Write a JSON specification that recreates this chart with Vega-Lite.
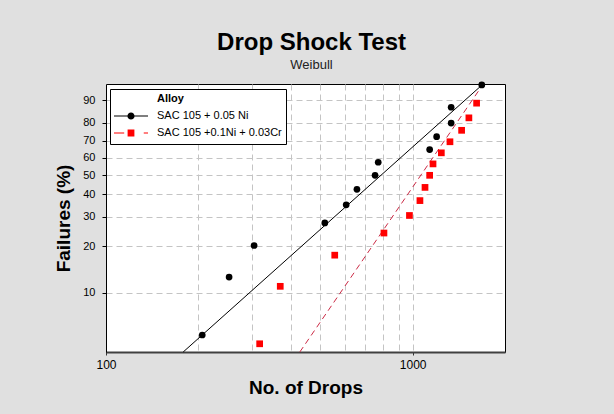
{
  "$schema": "https://vega.github.io/schema/vega-lite/v6.json",
  "width": 399,
  "height": 268,
  "autosize": "none",
  "padding": {"left": 106, "top": 84, "right": 109, "bottom": 62},
  "background": "#e0e0e0",
  "config": {
    "font": "Liberation Sans",
    "view": {"stroke": "#000000", "strokeWidth": 1, "fill": "#ffffff"}
  },
  "title": {
    "text": "Drop Shock Test",
    "subtitle": "Weibull",
    "font": "Liberation Sans",
    "fontSize": 24,
    "fontWeight": "bold",
    "color": "#000000",
    "subtitleFont": "Liberation Sans",
    "subtitleFontSize": 13,
    "subtitleColor": "#222222",
    "anchor": "middle",
    "dx": 6,
    "offset": 10,
    "subtitlePadding": 4
  },
  "data": {
    "values": [
      {"Alloy": "SAC 105 +0.1Ni + 0.03Cr", "Kind": "obs", "Drops": 317, "Failures": 4.55},
      {"Alloy": "SAC 105 +0.1Ni + 0.03Cr", "Kind": "obs", "Drops": 370, "Failures": 11.04},
      {"Alloy": "SAC 105 +0.1Ni + 0.03Cr", "Kind": "obs", "Drops": 557, "Failures": 17.53},
      {"Alloy": "SAC 105 +0.1Ni + 0.03Cr", "Kind": "obs", "Drops": 806, "Failures": 24.03},
      {"Alloy": "SAC 105 +0.1Ni + 0.03Cr", "Kind": "obs", "Drops": 976, "Failures": 30.52},
      {"Alloy": "SAC 105 +0.1Ni + 0.03Cr", "Kind": "obs", "Drops": 1056, "Failures": 37.01},
      {"Alloy": "SAC 105 +0.1Ni + 0.03Cr", "Kind": "obs", "Drops": 1097, "Failures": 43.51},
      {"Alloy": "SAC 105 +0.1Ni + 0.03Cr", "Kind": "obs", "Drops": 1136, "Failures": 50.0},
      {"Alloy": "SAC 105 +0.1Ni + 0.03Cr", "Kind": "obs", "Drops": 1165, "Failures": 56.49},
      {"Alloy": "SAC 105 +0.1Ni + 0.03Cr", "Kind": "obs", "Drops": 1240, "Failures": 62.99},
      {"Alloy": "SAC 105 +0.1Ni + 0.03Cr", "Kind": "obs", "Drops": 1323, "Failures": 69.48},
      {"Alloy": "SAC 105 +0.1Ni + 0.03Cr", "Kind": "obs", "Drops": 1444, "Failures": 75.97},
      {"Alloy": "SAC 105 +0.1Ni + 0.03Cr", "Kind": "obs", "Drops": 1525, "Failures": 82.47},
      {"Alloy": "SAC 105 +0.1Ni + 0.03Cr", "Kind": "obs", "Drops": 1616, "Failures": 88.96},
      {"Alloy": "SAC 105 + 0.05 Ni", "Kind": "obs", "Drops": 206, "Failures": 5.22},
      {"Alloy": "SAC 105 + 0.05 Ni", "Kind": "obs", "Drops": 252, "Failures": 12.69},
      {"Alloy": "SAC 105 + 0.05 Ni", "Kind": "obs", "Drops": 304, "Failures": 20.15},
      {"Alloy": "SAC 105 + 0.05 Ni", "Kind": "obs", "Drops": 517, "Failures": 27.61},
      {"Alloy": "SAC 105 + 0.05 Ni", "Kind": "obs", "Drops": 607, "Failures": 35.07},
      {"Alloy": "SAC 105 + 0.05 Ni", "Kind": "obs", "Drops": 658, "Failures": 42.54},
      {"Alloy": "SAC 105 + 0.05 Ni", "Kind": "obs", "Drops": 754, "Failures": 50.0},
      {"Alloy": "SAC 105 + 0.05 Ni", "Kind": "obs", "Drops": 772, "Failures": 57.46},
      {"Alloy": "SAC 105 + 0.05 Ni", "Kind": "obs", "Drops": 1136, "Failures": 64.93},
      {"Alloy": "SAC 105 + 0.05 Ni", "Kind": "obs", "Drops": 1197, "Failures": 72.39},
      {"Alloy": "SAC 105 + 0.05 Ni", "Kind": "obs", "Drops": 1335, "Failures": 79.85},
      {"Alloy": "SAC 105 + 0.05 Ni", "Kind": "obs", "Drops": 1335, "Failures": 87.31},
      {"Alloy": "SAC 105 + 0.05 Ni", "Kind": "obs", "Drops": 1680, "Failures": 94.78},
      {"Alloy": "SAC 105 + 0.05 Ni", "Kind": "fit", "Drops": 178.5, "Failures": 4.0},
      {"Alloy": "SAC 105 + 0.05 Ni", "Kind": "fit", "Drops": 1697, "Failures": 95.0},
      {"Alloy": "SAC 105 +0.1Ni + 0.03Cr", "Kind": "fit", "Drops": 428.5, "Failures": 4.0},
      {"Alloy": "SAC 105 +0.1Ni + 0.03Cr", "Kind": "fit", "Drops": 1699, "Failures": 95.0}
    ]
  },
  "transform": [
    {"calculate": "-log(1 - datum.Failures / 100)", "as": "H"}
  ],
  "encoding": {
    "x": {
      "field": "Drops",
      "type": "quantitative",
      "scale": {"type": "log", "domain": [100, 2000], "nice": false},
      "axis": {
        "title": "No. of Drops",
        "titleFont": "Liberation Sans",
        "titleFontSize": 19,
        "titleFontWeight": "bold",
        "titleColor": "#000000",
        "titlePadding": 8,
        "values": [100, 200, 300, 400, 500, 600, 700, 800, 900, 1000],
        "format": "d",
        "labelExpr": "datum.value == 100 || datum.value == 1000 ? datum.label : ''",
        "labelFont": "Liberation Sans",
        "labelFontSize": 12,
        "labelColor": "#000000",
        "labelFlush": false,
        "labelOverlap": false,
        "labelPadding": 4,
        "tickSize": 3,
        "tickColor": "#333333",
        "tickOpacity": {"condition": {"test": "datum.value == 100 || datum.value == 1000", "value": 1}, "value": 0},
        "domainColor": "#404040",
        "domainWidth": 2,
        "grid": true,
        "gridColor": "#c4c4c4",
        "gridDash": [6, 4],
        "gridWidth": 1
      }
    },
    "y": {
      "field": "H",
      "type": "quantitative",
      "scale": {"type": "log", "domain": [0.040822, 2.995732], "nice": false, "zero": false},
      "axis": {
        "title": "Failures (%)",
        "titleFont": "Liberation Sans",
        "titleFontSize": 19,
        "titleFontWeight": "bold",
        "titleColor": "#000000",
        "titlePadding": 9,
        "values": [0.1053605, 0.2231436, 0.3566749, 0.5108256, 0.6931472, 0.9162907, 1.2039728, 1.6094379, 2.3025851],
        "labelExpr": "round(100 * (1 - exp(-datum.value)))",
        "labelFont": "Liberation Sans",
        "labelFontSize": 11,
        "labelColor": "#000000",
        "labelFlush": false,
        "labelOverlap": false,
        "labelPadding": 7,
        "tickSize": 4,
        "tickColor": "#000000",
        "domainColor": "#000000",
        "domainWidth": 1,
        "grid": true,
        "gridColor": "#c4c4c4",
        "gridDash": [6, 4],
        "gridWidth": 1
      }
    }
  },
  "layer": [
    {
      "transform": [{"filter": "datum.Kind == 'fit' && datum.Alloy == 'SAC 105 + 0.05 Ni'"}],
      "mark": {"type": "line", "color": "#000000", "strokeWidth": 1}
    },
    {
      "transform": [{"filter": "datum.Kind == 'fit' && datum.Alloy == 'SAC 105 +0.1Ni + 0.03Cr'"}],
      "mark": {"type": "line", "color": "#cc2a45", "strokeWidth": 1, "strokeDash": [6, 4]}
    },
    {
      "transform": [{"filter": "datum.Kind == 'obs' && datum.Alloy == 'SAC 105 +0.1Ni + 0.03Cr'"}],
      "mark": {"type": "point", "shape": "square", "filled": true, "size": 45, "opacity": 1, "color": "#ff0000"}
    },
    {
      "transform": [{"filter": "datum.Kind == 'obs' && datum.Alloy == 'SAC 105 + 0.05 Ni'"}],
      "mark": {"type": "point", "shape": "circle", "filled": true, "size": 45, "opacity": 1, "color": "#000000"}
    },
    {
      "transform": [{"filter": "datum.Kind == 'obs'"}],
      "mark": {"type": "point", "filled": true, "size": 45, "opacity": 0},
      "encoding": {
        "color": {
          "field": "Alloy",
          "type": "nominal",
          "scale": {"domain": ["SAC 105 + 0.05 Ni", "SAC 105 +0.1Ni + 0.03Cr"], "range": ["#000000", "#ff0000"]},
          "legend": {
            "title": "Alloy",
            "orient": "none",
            "legendX": 4,
            "legendY": 5,
            "fillColor": "#ffffff",
            "strokeColor": "#000000",
            "padding": 4,
            "titleFont": "Liberation Sans",
            "titleFontSize": 11,
            "titleFontWeight": "bold",
            "titleColor": "#000000",
            "titlePadding": 5,
            "labelFont": "Liberation Sans",
            "labelFontSize": 11,
            "labelColor": "#000000",
            "labelOffset": 9,
            "clipHeight": 14,
            "rowPadding": 3,
            "symbolSize": 1156,
            "symbolStrokeWidth": 0,
            "symbolOpacity": 1,
            "encode": {
              "title": {"update": {"dx": {"value": 43}}}
            }
          }
        },
        "shape": {
          "field": "Alloy",
          "type": "nominal",
          "scale": {
            "domain": ["SAC 105 + 0.05 Ni", "SAC 105 +0.1Ni + 0.03Cr"],
            "range": [
              "M-1,-0.03H-0.2V0.03H-1Z M0.2,-0.03H1V0.03H0.2Z M-0.21,0A0.21,0.21,0,1,1,0.21,0A0.21,0.21,0,1,1,-0.21,0Z",
              "M-1,-0.03H-0.4V0.03H-1Z M-0.2,-0.2H0.2V0.2H-0.2Z M0.75,-0.03H1V0.03H0.75Z"
            ]
          }
        }
      }
    }
  ]
}
